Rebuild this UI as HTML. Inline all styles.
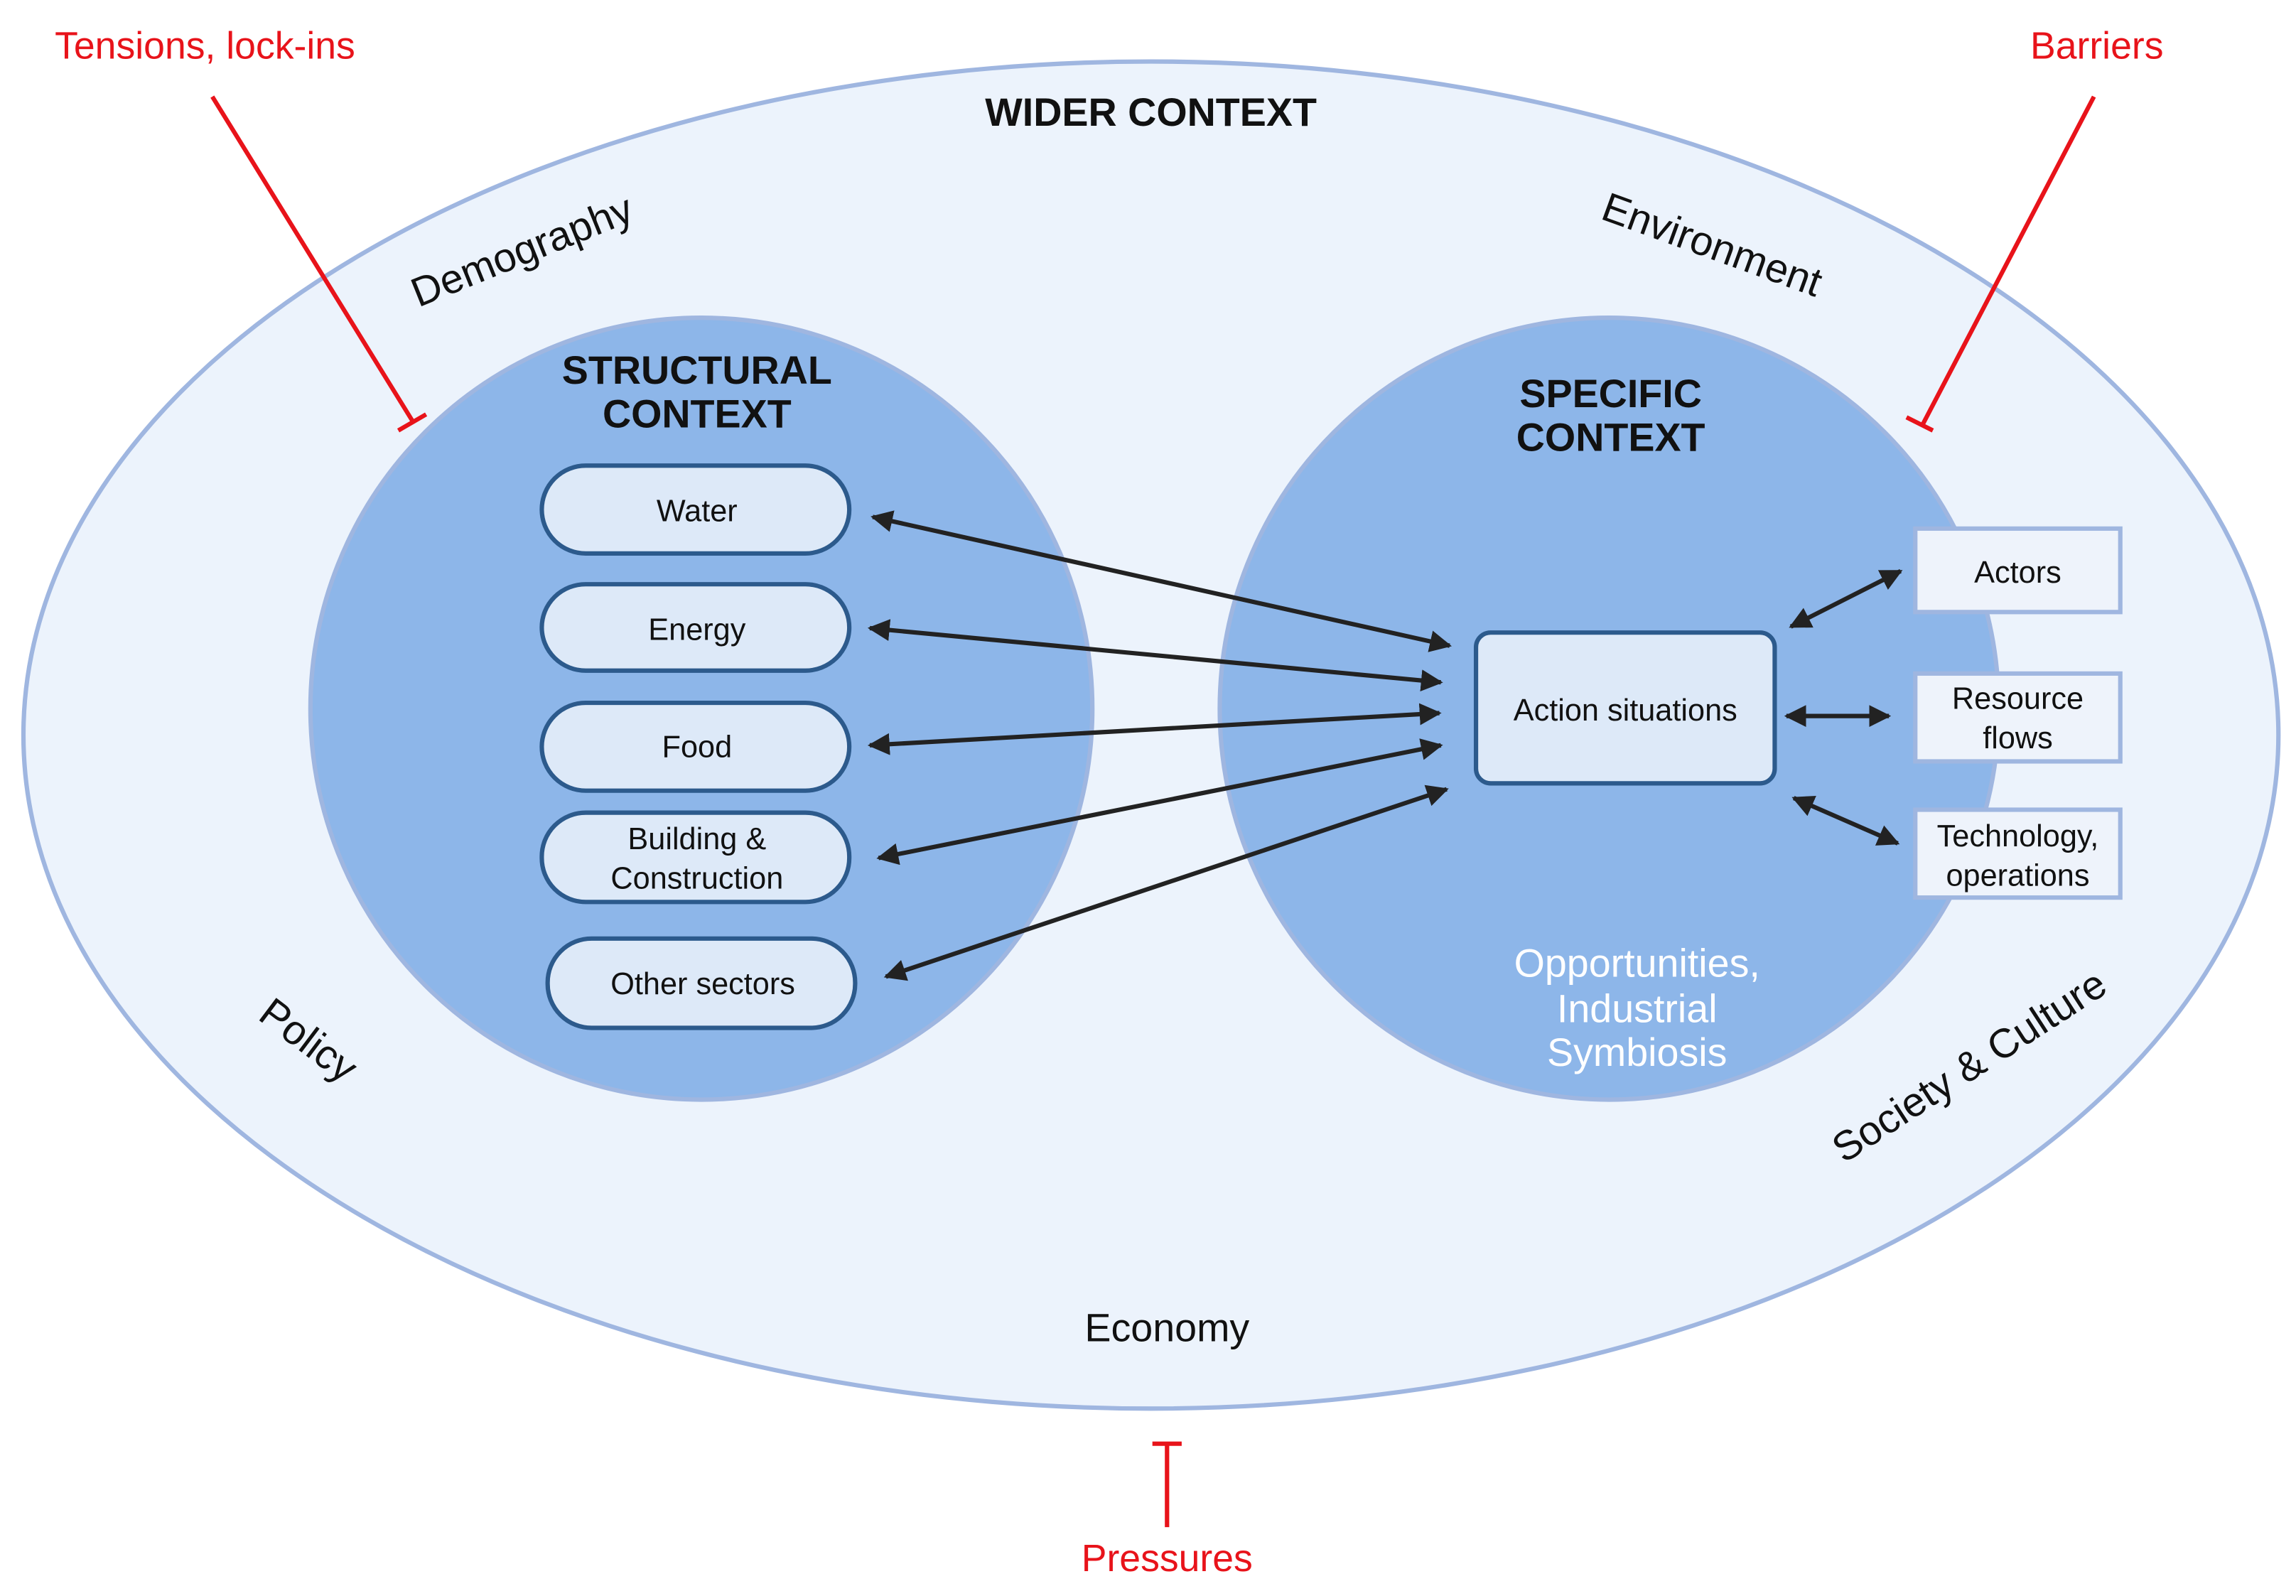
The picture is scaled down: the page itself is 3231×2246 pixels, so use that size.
<!DOCTYPE html>
<html><head><meta charset="utf-8"><style>html,body{margin:0;padding:0;background:#fff}svg{display:block}</style></head><body>
<svg width="3231" height="2246" viewBox="0 0 1568 1090" preserveAspectRatio="none" xmlns="http://www.w3.org/2000/svg" font-family="Liberation Sans, sans-serif">
<defs>
<marker id="a" viewBox="0 0 10 10" refX="9" refY="5" markerWidth="5" markerHeight="5" orient="auto-start-reverse"><path d="M0,0 L10,5 L0,10 z" fill="#222"/></marker>
</defs>
<ellipse cx="786" cy="502" rx="770" ry="460" fill="#ecf3fc" stroke="#9fb6e0" stroke-width="3"/>
<ellipse cx="479" cy="484" rx="267" ry="267" fill="#8db6e9" stroke="#9fb6e0" stroke-width="3"/>
<ellipse cx="1099" cy="484" rx="266" ry="267" fill="#8db6e9" stroke="#9fb6e0" stroke-width="3"/>
<g fill="#dde9f8" stroke="#2c5a8c" stroke-width="3">
<rect x="370" y="318" width="210" height="60" rx="30"/>
<rect x="370" y="399" width="210" height="59" rx="30"/>
<rect x="370" y="480" width="210" height="60" rx="30"/>
<rect x="370" y="555" width="210" height="61" rx="30"/>
<rect x="374" y="641" width="210" height="61" rx="30"/>
<rect x="1008" y="432" width="204" height="103" rx="10"/>
</g>
<g fill="#eef3fb" stroke="#9fb6e0" stroke-width="3">
<rect x="1308" y="361" width="140" height="57"/>
<rect x="1308" y="460" width="140" height="60"/>
<rect x="1308" y="553" width="140" height="60"/>
</g>
<g stroke="#222" stroke-width="3" marker-start="url(#a)" marker-end="url(#a)">
<line x1="596" y1="353" x2="990" y2="441"/>
<line x1="594" y1="429" x2="984" y2="466"/>
<line x1="594" y1="509" x2="983" y2="487"/>
<line x1="600" y1="586" x2="984" y2="509"/>
<line x1="605" y1="667" x2="988" y2="539"/>
<line x1="1223" y1="428" x2="1298" y2="390"/>
<line x1="1220" y1="489" x2="1290" y2="489"/>
<line x1="1225" y1="545" x2="1296" y2="576"/>
</g>
<g stroke="#e8131a" stroke-width="3" fill="none">
<line x1="145" y1="66" x2="282" y2="288"/><line x1="272" y1="294" x2="291" y2="283"/>
<line x1="1430" y1="66" x2="1313" y2="290"/><line x1="1302" y1="285" x2="1320" y2="294"/>
<line x1="797" y1="985" x2="797" y2="1043"/><line x1="787" y1="986" x2="807" y2="986"/>
</g>
<g fill="#e8131a" font-size="26" text-anchor="middle">
<text x="140" y="40">Tensions, lock-ins</text>
<text x="1432" y="40">Barriers</text>
<text x="797" y="1073">Pressures</text>
</g>
<g fill="#111" text-anchor="middle">
<text x="786" y="86" font-size="27" font-weight="bold">WIDER CONTEXT</text>
<text x="476" y="262" font-size="27" font-weight="bold">STRUCTURAL</text>
<text x="476" y="292" font-size="27" font-weight="bold">CONTEXT</text>
<text x="1100" y="278" font-size="27" font-weight="bold">SPECIFIC</text>
<text x="1100" y="308" font-size="27" font-weight="bold">CONTEXT</text>
<g font-size="21">
<text x="476" y="356">Water</text>
<text x="476" y="437">Energy</text>
<text x="476" y="517">Food</text>
<text x="476" y="580">Building &amp;</text>
<text x="476" y="607">Construction</text>
<text x="480" y="679">Other sectors</text>
<text x="1110" y="492">Action situations</text>
<text x="1378" y="398">Actors</text>
<text x="1378" y="484">Resource</text>
<text x="1378" y="511">flows</text>
<text x="1378" y="578">Technology,</text>
<text x="1378" y="605">operations</text>
</g>
<text x="797" y="916" font-size="27">Economy</text>
<g font-size="28">
<text transform="translate(360,180) rotate(-22)">Demography</text>
<text transform="translate(1166,176) rotate(20)">Environment</text>
<text transform="translate(205,718) rotate(37)">Policy</text>
<text transform="translate(1350,736) rotate(-33)">Society &amp; Culture</text>
</g>
</g>
<g fill="#fff" font-size="27" text-anchor="middle">
<text x="1118" y="667">Opportunities,</text>
<text x="1118" y="698">Industrial</text>
<text x="1118" y="728">Symbiosis</text>
</g>
</svg>
</body></html>
